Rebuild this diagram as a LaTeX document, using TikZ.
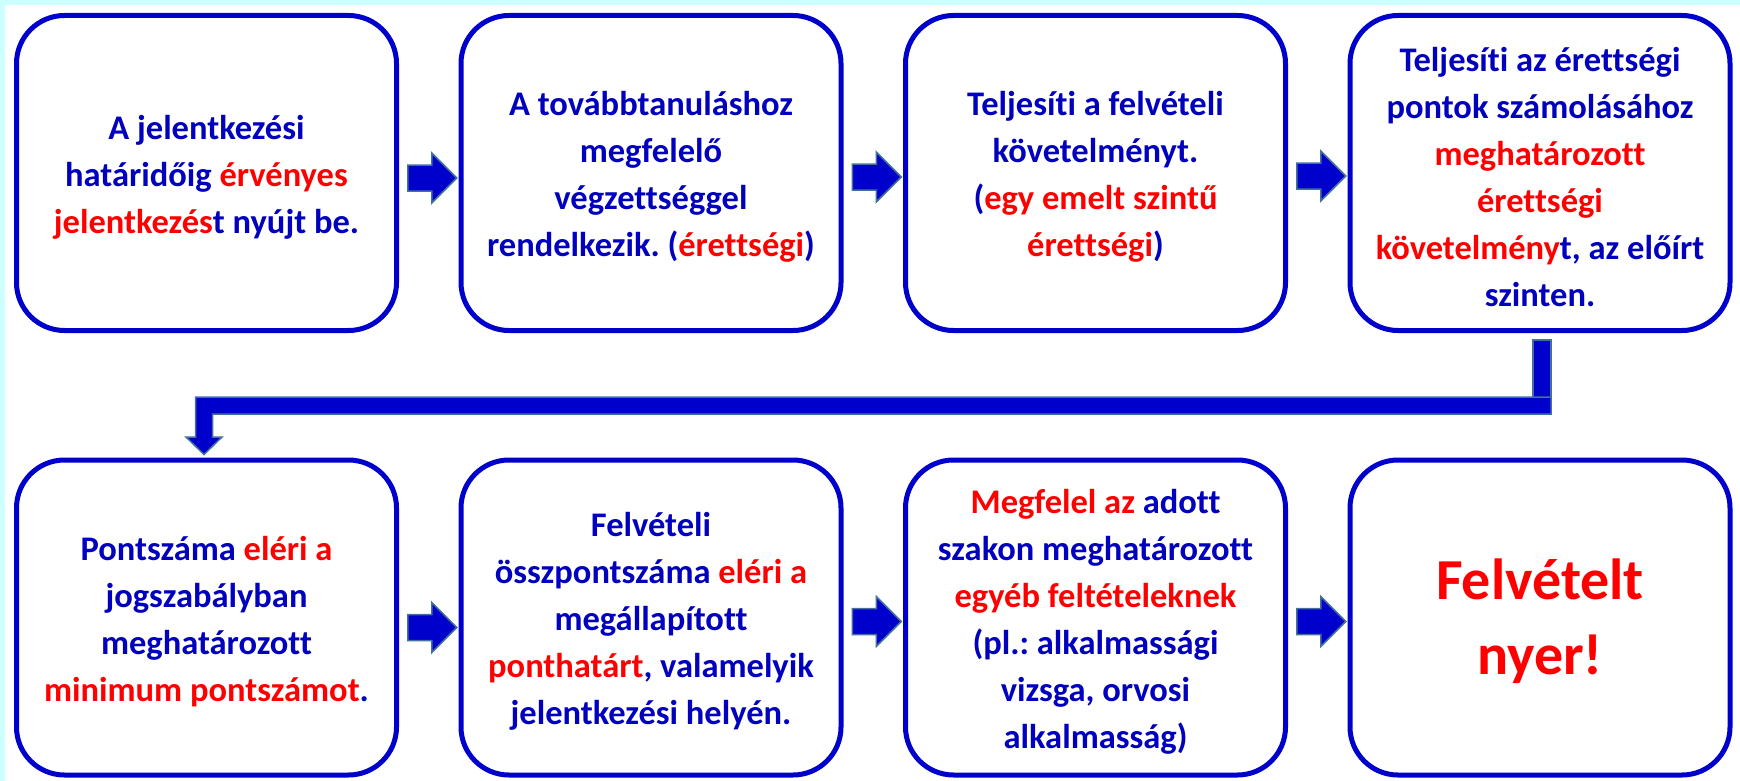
\documentclass[tikz,border=0pt]{standalone}
\usepackage{fontspec}
\setmainfont{Carlito}[Ligatures=NoCommon, RawFeature=-liga]
\usetikzlibrary{calc}
\definecolor{bgcyan}{RGB}{204,255,255}
\definecolor{boxblue}{RGB}{0,0,204}
\definecolor{tblue}{RGB}{0,0,190}
\definecolor{tred}{RGB}{255,0,0}
\definecolor{afill}{RGB}{0,0,204}
\definecolor{aout}{RGB}{65,113,156}
\newcommand{\rd}[1]{\textcolor{tred}{#1}}
\frenchspacing
\begin{document}
\begin{tikzpicture}[x=1pt,y=-1pt,
  box/.style={draw=boxblue, fill=white, line width=5pt, rounded corners=48pt,
    minimum width=380pt, minimum height=315pt, inner sep=0pt},
  txt/.style={align=center, inner sep=0pt, text=tblue, yshift=-4pt,
    font=\bfseries\fontsize{34.5}{47}\selectfont},
  bigtext/.style={txt, font=\bfseries\fontsize{58}{75}\selectfont, text=tred},
  conn/.style={fill=afill, draw=aout, line width=1.5pt, line join=miter},
  blockarrow/.pic={\draw[conn] (0,-13) -- (24,-13) -- (24,-25) -- (49,0) -- (24,25) -- (24,13) -- (0,13) -- cycle;}
]
\useasboundingbox (0,0) rectangle (1740,781);
\fill[bgcyan] (0,0) rectangle (1740,781);
\fill[white] (5,5) rectangle (1740,781);

% top row
\node[box, label={[txt]center:{A jelentkezési\\határidőig \rd{érvényes}\\\rd{jelentkezés}t nyújt be.}}] (b1) at (206.5,173) {};
\node[box, label={[txt]center:{A továbbtanuláshoz\\megfelelő\\végzettséggel\\rendelkezik. (\rd{érettségi})}}] (b2) at (651,173) {};
\node[box, label={[txt]center:{Teljesíti a felvételi\\követelményt.\\(\rd{egy emelt szintű}\\\rd{érettségi})}}] (b3) at (1095.5,173) {};
\node[box, label={[txt]center:{Teljesíti az érettségi\\pontok számolásához\\\rd{meghatározott}\\\rd{érettségi}\\\rd{követelmény}t, az előírt\\szinten.}}] (b4) at (1540,173) {};

% bottom row
\node[box, label={[txt]center:{Pontszáma \rd{eléri a}\\jogszabályban\\meghatározott\\\rd{minimum pontszámot}.}}] (b5) at (206.5,617.5) {};
\node[box, label={[txt]center:{Felvételi\\összpontszáma \rd{eléri a}\\megállapított\\\rd{ponthatárt}, valamelyik\\jelentkezési helyén.}}] (b6) at (651,617.5) {};
\node[box, label={[txt]center:{\rd{Megfelel az} adott\\szakon meghatározott\\\rd{egyéb feltételeknek}\\(pl.: alkalmassági\\vizsga, orvosi\\alkalmasság)}}] (b7) at (1095.5,617.5) {};
\node[box, label={[bigtext]center:{Felvételt\\nyer!}}] (b8) at (1540,617.5) {};

% block arrows between boxes
\pic at ($(b1.east)!.5!(b2.west)+(-21,5)$) {blockarrow};
\pic at ($(b2.east)!.5!(b3.west)+(-21,4)$) {blockarrow};
\pic at ($(b3.east)!.5!(b4.west)+(-21,3)$) {blockarrow};
\pic at ($(b5.east)!.5!(b6.west)+(-21,10)$) {blockarrow};
\pic at ($(b6.east)!.5!(b7.west)+(-21,4)$) {blockarrow};
\pic at ($(b7.east)!.5!(b8.west)+(-21,4)$) {blockarrow};

% bent connector from b4 to b5
\coordinate (c1) at ($(b4.south)+(2,7)$);
\coordinate (c2) at ($(b5.north)+(-2.5,-3)$);
\coordinate (hr) at ($(c1)+(9,57)$);
\coordinate (hrb) at ($(c1)+(9,74)$);
\coordinate (sl) at ($(c2)+(-8.5,-17.5)$);
\coordinate (sr) at ($(c2)+(8.5,-17.5)$);
\draw[conn] ($(c1)+(-9,0)$) rectangle ($(c1)+(9,58)$);
\draw[conn] (hr) -- (hrb) -- (sr |- hrb) -- (sr) -- ($(sr)+(9.5,0)$) -- (c2) -- ($(sl)+(-9.5,0)$) -- (sl) -- (sl |- hr) -- cycle;
\end{tikzpicture}
\end{document}
